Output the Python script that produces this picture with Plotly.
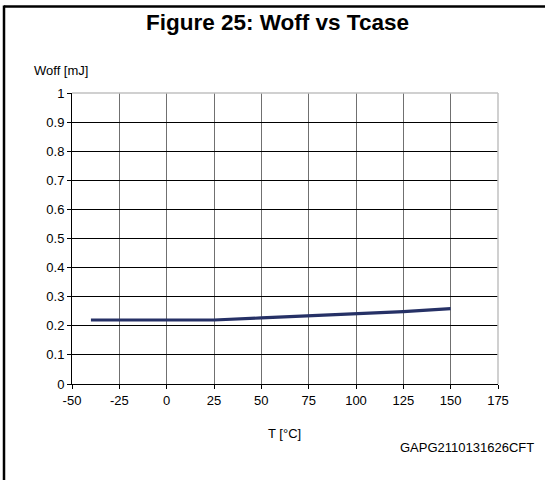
import plotly.graph_objects as go

temps = [-40, 25, 50, 75, 100, 125, 150]
woff = [0.22, 0.22, 0.227, 0.234, 0.241, 0.249, 0.259]
x_ticks = [-50, -25, 0, 25, 50, 75, 100, 125, 150, 175]
y_ticks = [0, 0.1, 0.2, 0.3, 0.4, 0.5, 0.6, 0.7, 0.8, 0.9, 1]
y_labels = ["0", "0.1", "0.2", "0.3", "0.4", "0.5", "0.6", "0.7", "0.8", "0.9", "1"]

W, H = 545, 480
L, R, T, B = 72, 47, 93, 96
pw, ph = W - L - R, H - T - B

def px(x):
    return (x - L) / pw

def py(y):
    return (H - B - y) / ph

FONT = "Liberation Sans, Arial, sans-serif"
FS = 13

fig = go.Figure()
fig.add_trace(go.Scatter(x=temps, y=woff, mode="lines",
                         line=dict(color="#263166", width=3.2),
                         showlegend=False, hoverinfo="skip"))

fig.update_layout(
    width=W, height=H,
    margin=dict(l=L, r=R, t=T, b=B),
    paper_bgcolor="white", plot_bgcolor="white",
    font=dict(family=FONT, size=FS, color="black"),
    xaxis=dict(range=[-50, 175], tickvals=x_ticks, ticktext=[str(v) for v in x_ticks],
               showgrid=True, gridcolor="#707070", gridwidth=1,
               showline=True, linecolor="black", linewidth=1,
               ticks="outside", ticklen=4, tickcolor="black",
               zeroline=False, tickfont=dict(size=FS, family=FONT)),
    yaxis=dict(range=[0, 1], tickvals=y_ticks, ticktext=y_labels,
               showgrid=True, gridcolor="black", gridwidth=1,
               showline=True, linecolor="black", linewidth=1,
               ticks="outside", ticklen=4, tickcolor="black",
               zeroline=False, tickfont=dict(size=FS, family=FONT)),
    shapes=[
        dict(type="line", xref="paper", yref="paper", x0=0, x1=1, y0=1, y1=1,
             line=dict(color="#c0c0c0", width=1.5), layer="above"),
        dict(type="line", xref="paper", yref="paper", x0=1, x1=1, y0=0, y1=1,
             line=dict(color="#c0c0c0", width=1.5), layer="above"),
        dict(type="line", xref="paper", yref="paper", x0=px(4), x1=px(546), y0=py(6.5), y1=py(6.5),
             line=dict(color="black", width=2.5)),
        dict(type="line", xref="paper", yref="paper", x0=px(4), x1=px(4), y0=py(5.5), y1=py(481),
             line=dict(color="black", width=2.5)),
    ],
    annotations=[
        dict(text="<b>Figure 25: Woff vs Tcase</b>", xref="paper", yref="paper",
             x=px(277), y=py(22), xanchor="center", yanchor="middle", showarrow=False,
             font=dict(size=22.5, family=FONT)),
        dict(text="Woff [mJ]", xref="paper", yref="paper",
             x=px(32), y=py(70), xanchor="left", yanchor="middle", showarrow=False,
             font=dict(size=FS, family=FONT)),
        dict(text="T [°C]", xref="paper", yref="paper",
             x=px(284), y=py(433), xanchor="center", yanchor="middle", showarrow=False,
             font=dict(size=FS, family=FONT)),
        dict(text="GAPG2110131626CFT", xref="paper", yref="paper",
             x=px(536), y=py(447), xanchor="right", yanchor="middle", showarrow=False,
             font=dict(size=FS, family=FONT)),
    ],
)

fig.write_html("out.html", config={"displayModeBar": False},
               post_script="document.body.style.margin='0px';document.body.style.overflow='hidden';")
